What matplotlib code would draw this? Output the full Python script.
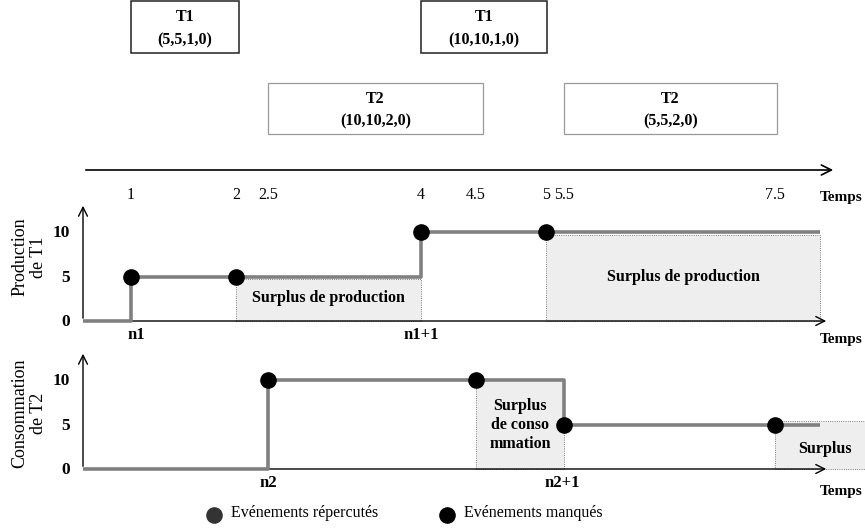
import numpy as np
import matplotlib
matplotlib.use("Agg")
import matplotlib.pyplot as plt
from matplotlib.patches import Rectangle

# --- data ---
time_labels = ["1", "2", "2.5", "4", "4.5", "5", "5.5", "7.5"]
time_values = [1, 2, 2.5, 4, 4.5, 5, 5.5, 7.5]

t1_tasks = [(1, 2.05), (4, 5.03)]
t1_params = ["(5,5,1,0)", "(10,10,1,0)"]
t2_tasks = [(2.5, 4.55), (5.5, 7.52)]
t2_params = ["(10,10,2,0)", "(5,5,2,0)"]

prod_t = [0, 1, 4, 8]
prod_v = [0, 5, 10, 10]
prod_events = [1, 2, 4, 5]
prod_event_v = [5, 5, 10, 10]
prod_surplus = [(2, 4, 4.7), (5, 8, 9.7)]

cons_t = [0, 2.5, 5.5, 8]
cons_v = [0, 10, 5, 5]
cons_events = [2.5, 4.5, 5.5, 7.5]
cons_event_v = [10, 10, 5, 5]
cons_surplus = [(4.5, 5.5, 10), (7.5, 8.7, 5.4)]

# schematic (non linear) time axis -> pixel
anchor_t = [0, 1, 2, 2.5, 4, 4.5, 5, 5.5, 7.5, 8, 8.7]
anchor_px = [83, 131, 236, 268, 421, 476, 546, 564, 775, 820, 866]


def X(t):
    return np.interp(t, anchor_t, anchor_px)


def Yp(v):
    return 321 - np.asarray(v, dtype=float) * 8.9


def Yc(v):
    return 469 - np.asarray(v, dtype=float) * 8.9


plt.rcParams["font.family"] = ["Liberation Serif", "DejaVu Serif"]
fig = plt.figure(figsize=(8.65, 5.28), dpi=100)
ax = fig.add_axes([0, 0, 1, 1])
ax.set_xlim(0, 865)
ax.set_ylim(528, 0)
ax.axis("off")

# task boxes
for (a, b), p in zip(t1_tasks, t1_params):
    ax.add_patch(Rectangle((X(a), 0.8), X(b) - X(a), 52, fill=False, ec="#222222", lw=1.1))
    ax.text((X(a) + X(b)) / 2, 17, "T1", ha="center", va="center", fontsize=11.5, fontweight="bold")
    ax.text((X(a) + X(b)) / 2, 40, p, ha="center", va="center", fontsize=11.5, fontweight="bold")
for (a, b), p in zip(t2_tasks, t2_params):
    ax.add_patch(Rectangle((X(a), 83), X(b) - X(a), 51, fill=False, ec="#999999", lw=0.9))
    ax.text((X(a) + X(b)) / 2, 99, "T2", ha="center", va="center", fontsize=11.5, fontweight="bold")
    ax.text((X(a) + X(b)) / 2, 121, p, ha="center", va="center", fontsize=11.5, fontweight="bold")

# top time axis
ax.annotate("", xy=(836, 170), xytext=(83, 170),
            arrowprops=dict(arrowstyle="->", lw=1.2, color="black", mutation_scale=18))
for lab, t in zip(time_labels, time_values):
    ax.text(X(t), 195, lab, ha="center", va="center", fontsize=11.5)
ax.text(863, 198, "Temps", ha="right", va="center", fontsize=11, fontweight="bold")


def panel(Y, ylab, lab_v, st, sv, ev_t, ev_v, surplus, nlabs, temps_y):
    # surplus areas
    for a, b, h in surplus:
        ax.add_patch(Rectangle((X(a), Y(0)), X(b) - X(a), Y(h) - Y(0), fc="#eeeeee",
                               ec="#555555", lw=0.6, ls=":", zorder=1))
    # axes
    ax.annotate("", xy=(829, Y(0)), xytext=(83, Y(0)),
                arrowprops=dict(arrowstyle="->", lw=1.0, color="black", mutation_scale=16), zorder=2)
    ax.annotate("", xy=(83, Y(0) - 118), xytext=(83, Y(0)),
                arrowprops=dict(arrowstyle="->", lw=1.0, color="black", mutation_scale=16), zorder=2)
    for v in [0, 5, 10]:
        ax.text(70, Y(v) + 1, str(v), ha="right", va="center", fontsize=12.5, fontweight="bold")
    ax.text(29, Y(lab_v), ylab, ha="center", va="center", rotation=90, fontsize=13,
            linespacing=1.15)
    # step line
    ax.plot(X(st), Y(sv), drawstyle="steps-post", color="#808080", lw=2.6, zorder=3,
            solid_capstyle="butt")
    ax.scatter(X(ev_t), Y(ev_v), s=120, color="black", zorder=4)
    for lab, t in nlabs:
        ax.text(X(t), Y(0) + 14, lab, ha="center", va="center", fontsize=12, fontweight="bold")
    ax.text(863, temps_y, "Temps", ha="right", va="center", fontsize=11, fontweight="bold")


panel(Yp, "Production\nde T1", 7.2, prod_t, prod_v, prod_events, prod_event_v,
      prod_surplus, [("n1", 1.05), ("n1+1", 4)], 340)
panel(Yc, "Consommation\nde T2", 6.3, cons_t, cons_v, cons_events, cons_event_v,
      cons_surplus, [("n2", 2.5), ("n2+1", 5.45)], 492)

# surplus texts
ax.text((X(2) + X(4)) / 2, 298, "Surplus de production", ha="center", va="center",
        fontsize=11.5, fontweight="bold", zorder=5)
ax.text((X(5) + X(8)) / 2, 277, "Surplus de production", ha="center", va="center",
        fontsize=11.5, fontweight="bold", zorder=5)
ax.text((X(4.5) + X(5.5)) / 2, 425, "Surplus\nde conso\nmmation", ha="center", va="center",
        fontsize=11.5, fontweight="bold", linespacing=1.25, zorder=5)
ax.text(825, 449, "Surplus", ha="center", va="center", fontsize=11.5, fontweight="bold", zorder=5)

# legend
ax.scatter([214], [515], s=120, color="#333333")
ax.text(231, 513, "Evénements répercutés", ha="left", va="center", fontsize=11.5)
ax.scatter([447], [515], s=120, color="black")
ax.text(464, 513, "Evénements manqués", ha="left", va="center", fontsize=11.5)

fig.savefig("out.png", dpi=100)
